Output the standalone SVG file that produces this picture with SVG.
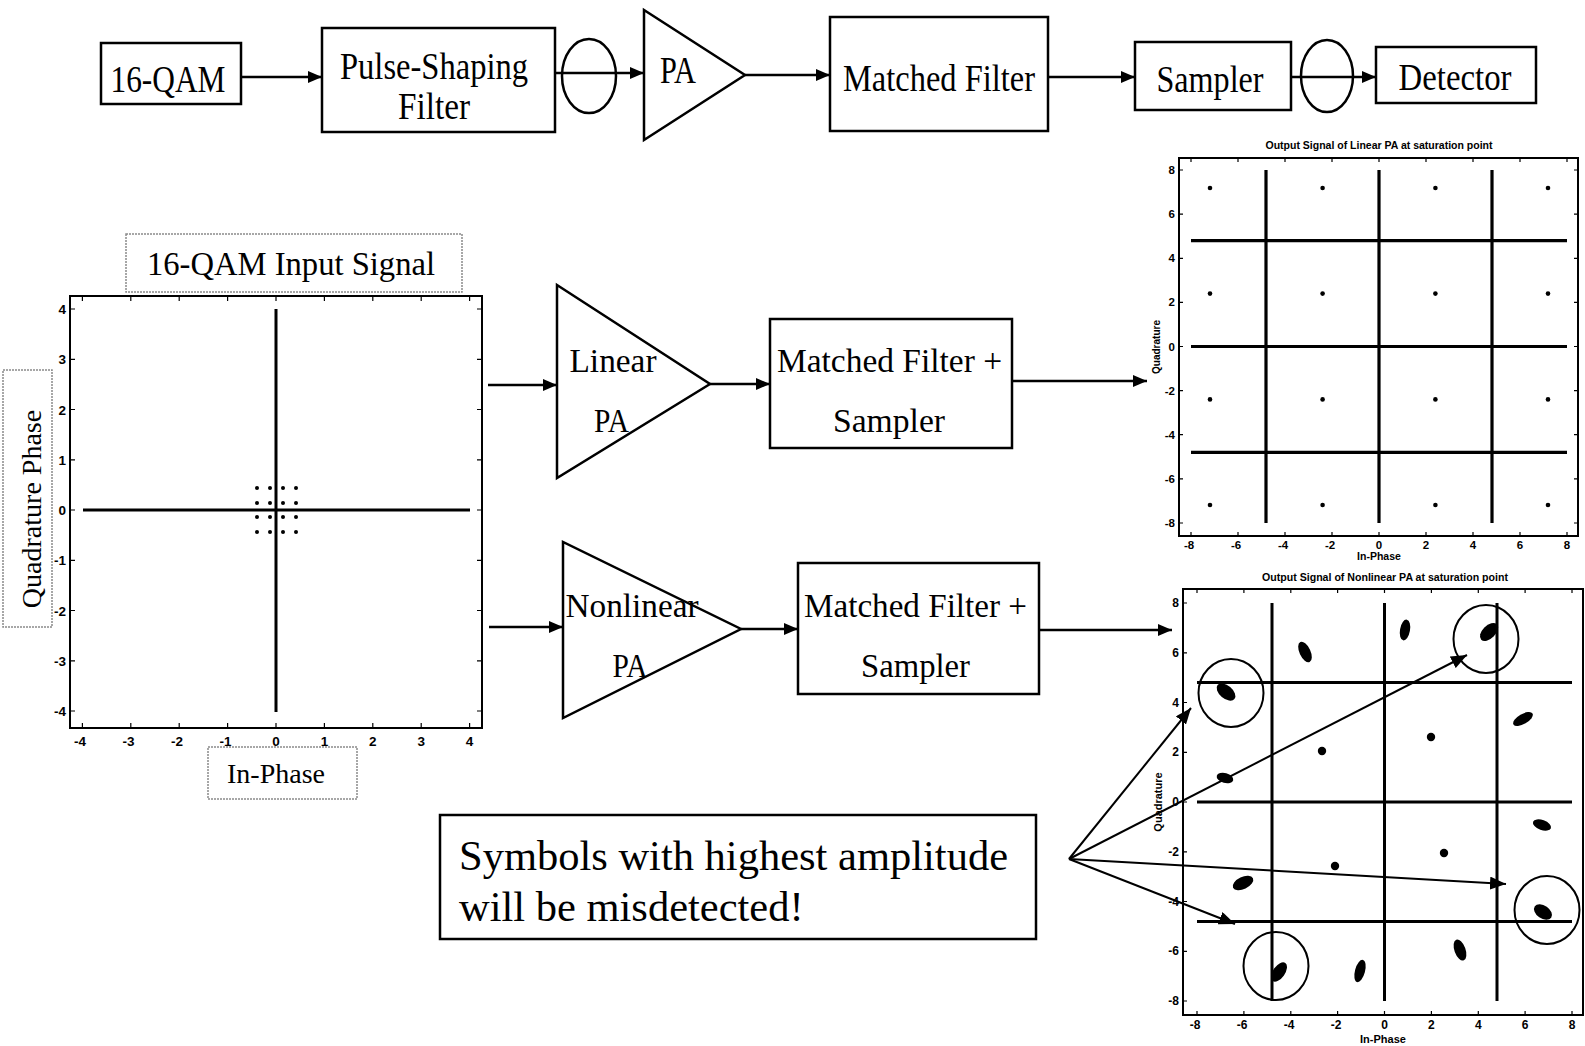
<svg xmlns="http://www.w3.org/2000/svg" width="1585" height="1046" viewBox="0 0 1585 1046">
<style>
.bx{fill:#fff;stroke:#000;stroke-width:2.5}
.lb{fill:none;stroke:#8a8a8a;stroke-width:1.5;stroke-dasharray:2 1}
.ser{font-family:"Liberation Serif","Times New Roman",serif;fill:#000;text-anchor:middle}
.top{font-size:37px}
.mid{font-size:33px}
.big{font-size:42.5px;text-anchor:start}
.tk{font-family:"Liberation Sans",Arial,sans-serif;font-weight:bold;font-size:13.5px;fill:#000}
.tk2{font-family:"Liberation Sans",Arial,sans-serif;font-weight:bold;font-size:11.5px;fill:#000}
.end{text-anchor:end}
.mdl{text-anchor:middle}
.ax{fill:none;stroke:#000;stroke-width:2}
.tick{fill:none;stroke:#000;stroke-width:1.2}
.grid{fill:none;stroke:#000;stroke-width:3.2}
.conn{fill:none;stroke:#000;stroke-width:2.5}
.fan{fill:none;stroke:#000;stroke-width:2}
.circ{fill:none;stroke:#000;stroke-width:2}
</style>
<defs>
<marker id="ah" viewBox="0 0 14 12" refX="14" refY="6" markerWidth="14" markerHeight="12" markerUnits="userSpaceOnUse" orient="auto"><path d="M0,0 L14,6 L0,12 z" fill="#000"/></marker>
<marker id="ah2" viewBox="0 0 16 13" refX="16" refY="6.5" markerWidth="16" markerHeight="13" markerUnits="userSpaceOnUse" orient="auto"><path d="M0,0 L16,6.5 L0,13 z" fill="#000"/></marker>
</defs>
<rect width="1585" height="1046" fill="#fff"/>

<!-- Top chain -->
<g id="qam16">
<rect class="bx" x="101" y="43" width="140" height="61"/>
<text class="ser top" x="168" y="92" textLength="115" lengthAdjust="spacingAndGlyphs">16-QAM</text>
</g>
<g id="pulse-shaping">
<rect class="bx" x="322" y="28" width="233" height="104"/>
<text class="ser top" x="434" y="79" textLength="188" lengthAdjust="spacingAndGlyphs">Pulse-Shaping</text>
<text class="ser top" x="434" y="119" textLength="72" lengthAdjust="spacingAndGlyphs">Filter</text>
</g>
<g id="upsample1"><ellipse class="bx" cx="589" cy="76" rx="27" ry="37" style="fill:none"/></g>
<g id="pa">
<polygon class="bx" points="644,10 644,140 745,75"/>
<text class="ser top" x="678" y="83" textLength="36" lengthAdjust="spacingAndGlyphs">PA</text>
</g>
<g id="matched-filter">
<rect class="bx" x="830" y="17" width="218" height="114"/>
<text class="ser top" x="939" y="91" textLength="192" lengthAdjust="spacingAndGlyphs">Matched Filter</text>
</g>
<g id="sampler">
<rect class="bx" x="1135" y="42" width="156" height="68"/>
<text class="ser top" x="1210" y="92" textLength="107" lengthAdjust="spacingAndGlyphs">Sampler</text>
</g>
<g id="downsample"><ellipse class="bx" cx="1327" cy="76" rx="26" ry="36" style="fill:none"/></g>
<g id="detector">
<rect class="bx" x="1376" y="47" width="160" height="56"/>
<text class="ser top" x="1455" y="90" textLength="113" lengthAdjust="spacingAndGlyphs">Detector</text>
</g>

<!-- Left plot -->
<g id="input-plot">
<rect class="lb" x="126" y="234" width="336" height="58" fill="#fff"/>
<text class="ser" x="291" y="275" style="font-size:33px" textLength="288" lengthAdjust="spacingAndGlyphs">16-QAM Input Signal</text>
<rect class="ax" x="70" y="296" width="412" height="432"/>
<path class="tick" d="M82.4 728V723M130.8 728V723M179.2 728V723M227.6 728V723M276 728V723M324.4 728V723M372.8 728V723M421.2 728V723M469.6 728V723
M82.4 296V301M130.8 296V301M179.2 296V301M227.6 296V301M276 296V301M324.4 296V301M372.8 296V301M421.2 296V301M469.6 296V301
M70 309H75M70 359.3H75M70 409.5H75M70 459.8H75M70 510H75M70 560.3H75M70 610.5H75M70 660.8H75M70 711H75
M482 309H477M482 359.3H477M482 409.5H477M482 459.8H477M482 510H477M482 560.3H477M482 610.5H477M482 660.8H477M482 711H477"/>
<g class="tk end">
<text x="66" y="314">4</text><text x="66" y="364.3">3</text><text x="66" y="414.5">2</text><text x="66" y="464.8">1</text><text x="66" y="515">0</text><text x="66" y="565.3">-1</text><text x="66" y="615.5">-2</text><text x="66" y="665.8">-3</text><text x="66" y="716">-4</text>
</g>
<g class="tk mdl">
<text x="80" y="746">-4</text><text x="128.5" y="746">-3</text><text x="177" y="746">-2</text><text x="225.5" y="746">-1</text><text x="276" y="746">0</text><text x="324.4" y="746">1</text><text x="372.8" y="746">2</text><text x="421.2" y="746">3</text><text x="469.6" y="746">4</text>
</g>
<path d="M83 510H470M276 309V712" stroke="#000" stroke-width="3" fill="none"/>
<g fill="#000">
<circle cx="257" cy="488" r="2"/><circle cx="270" cy="488" r="2"/><circle cx="283" cy="488" r="2"/><circle cx="296" cy="488" r="2"/>
<circle cx="257" cy="503" r="2"/><circle cx="270" cy="503" r="2"/><circle cx="283" cy="503" r="2"/><circle cx="296" cy="503" r="2"/>
<circle cx="257" cy="517" r="2"/><circle cx="270" cy="517" r="2"/><circle cx="283" cy="517" r="2"/><circle cx="296" cy="517" r="2"/>
<circle cx="257" cy="532" r="2"/><circle cx="270" cy="532" r="2"/><circle cx="283" cy="532" r="2"/><circle cx="296" cy="532" r="2"/>
</g>
<rect class="lb" x="3" y="370" width="49" height="257" fill="#fff"/>
<text class="ser" transform="translate(41 509) rotate(-90)" style="font-size:28px">Quadrature Phase</text>
<rect class="lb" x="208" y="747" width="149" height="52" fill="#fff"/>
<text class="ser" x="276" y="783" style="font-size:28px">In-Phase</text>
</g>

<!-- Middle branch -->
<g id="linear-pa">
<polygon class="bx" points="557,285 557,478 710,384"/>
<text class="ser mid" x="613" y="372" textLength="87" lengthAdjust="spacingAndGlyphs">Linear</text>
<text class="ser mid" x="611.5" y="432" textLength="35" lengthAdjust="spacingAndGlyphs">PA</text>
</g>
<g id="mf-sampler-1">
<rect class="bx" x="770" y="319" width="242" height="129"/>
<text class="ser mid" x="889.5" y="372" textLength="225" lengthAdjust="spacingAndGlyphs">Matched Filter +</text>
<text class="ser mid" x="889" y="432" textLength="112" lengthAdjust="spacingAndGlyphs">Sampler</text>
</g>
<g id="nonlinear-pa">
<polygon class="bx" points="563,542 563,718 741,629"/>
<text class="ser mid" x="632" y="617" textLength="133" lengthAdjust="spacingAndGlyphs">Nonlinear</text>
<text class="ser mid" x="630" y="677" textLength="35" lengthAdjust="spacingAndGlyphs">PA</text>
</g>
<g id="mf-sampler-2">
<rect class="bx" x="798" y="563" width="241" height="131"/>
<text class="ser mid" x="915.5" y="617" textLength="223" lengthAdjust="spacingAndGlyphs">Matched Filter +</text>
<text class="ser mid" x="915.5" y="677" textLength="109" lengthAdjust="spacingAndGlyphs">Sampler</text>
</g>

<!-- Top right plot -->
<g id="linear-output-plot">
<text class="tk2 mdl" x="1379" y="149" textLength="227" lengthAdjust="spacingAndGlyphs" style="font-size:10px">Output Signal of Linear PA at saturation point</text>
<rect class="ax" x="1179" y="158" width="399" height="378"/>
<path class="tick" d="M1191 536V532M1238 536V532M1285 536V532M1332 536V532M1379 536V532M1426 536V532M1473 536V532M1520 536V532M1567 536V532
M1191 158V162M1238 158V162M1285 158V162M1332 158V162M1379 158V162M1426 158V162M1473 158V162M1520 158V162M1567 158V162
M1179 170H1183M1179 214.1H1183M1179 258.3H1183M1179 302.4H1183M1179 346.5H1183M1179 390.6H1183M1179 434.7H1183M1179 478.9H1183M1179 523H1183
M1578 170H1574M1578 214.1H1574M1578 258.3H1574M1578 302.4H1574M1578 346.5H1574M1578 390.6H1574M1578 434.7H1574M1578 478.9H1574M1578 523H1574"/>
<g class="tk2 end">
<text x="1175" y="174">8</text><text x="1175" y="218">6</text><text x="1175" y="262">4</text><text x="1175" y="306">2</text><text x="1175" y="350.5">0</text><text x="1175" y="395">-2</text><text x="1175" y="439">-4</text><text x="1175" y="483">-6</text><text x="1175" y="527">-8</text>
</g>
<g class="tk2 mdl">
<text x="1189" y="549">-8</text><text x="1236" y="549">-6</text><text x="1283" y="549">-4</text><text x="1330" y="549">-2</text><text x="1379" y="549">0</text><text x="1426" y="549">2</text><text x="1473" y="549">4</text><text x="1520" y="549">6</text><text x="1567" y="549">8</text>
</g>
<text class="tk2 mdl" x="1379" y="560" style="font-size:10.5px">In-Phase</text>
<text class="tk2 mdl" transform="translate(1160 347) rotate(-90)" style="font-size:10px">Quadrature</text>
<path class="grid" d="M1266 170V523M1379 170V523M1492 170V523M1191 240.6H1567M1191 346.5H1567M1191 452.4H1567"/>
<g fill="#000">
<circle cx="1210" cy="188" r="2.3"/><circle cx="1322.6" cy="188" r="2.3"/><circle cx="1435.4" cy="188" r="2.3"/><circle cx="1548" cy="188" r="2.3"/>
<circle cx="1210" cy="293.6" r="2.3"/><circle cx="1322.6" cy="293.6" r="2.3"/><circle cx="1435.4" cy="293.6" r="2.3"/><circle cx="1548" cy="293.6" r="2.3"/>
<circle cx="1210" cy="399.4" r="2.3"/><circle cx="1322.6" cy="399.4" r="2.3"/><circle cx="1435.4" cy="399.4" r="2.3"/><circle cx="1548" cy="399.4" r="2.3"/>
<circle cx="1210" cy="505" r="2.3"/><circle cx="1322.6" cy="505" r="2.3"/><circle cx="1435.4" cy="505" r="2.3"/><circle cx="1548" cy="505" r="2.3"/>
</g>
</g>

<!-- Bottom right plot -->
<g id="nonlinear-output-plot">
<text class="tk2 mdl" x="1385" y="581" textLength="246" lengthAdjust="spacingAndGlyphs" style="font-size:10px">Output Signal of Nonlinear PA at saturation point</text>
<rect class="ax" x="1183" y="589" width="400" height="426"/>
<path class="tick" d="M1197 1015V1011M1243.9 1015V1011M1290.8 1015V1011M1337.6 1015V1011M1384.5 1015V1011M1431.4 1015V1011M1478.3 1015V1011M1525.1 1015V1011M1572 1015V1011
M1197 589V593M1243.9 589V593M1290.8 589V593M1337.6 589V593M1384.5 589V593M1431.4 589V593M1478.3 589V593M1525.1 589V593M1572 589V593
M1183 603H1187M1183 652.8H1187M1183 702.5H1187M1183 752.3H1187M1183 802H1187M1183 851.8H1187M1183 901.5H1187M1183 951.3H1187M1183 1001H1187"/>
<g class="tk2 end" style="font-size:12px">
<text x="1179" y="607">8</text><text x="1179" y="657">6</text><text x="1179" y="706.5">4</text><text x="1179" y="756">2</text><text x="1179" y="806">0</text><text x="1179" y="856">-2</text><text x="1179" y="905.5">-4</text><text x="1179" y="955">-6</text><text x="1179" y="1005">-8</text>
</g>
<g class="tk2 mdl" style="font-size:12px">
<text x="1195" y="1029">-8</text><text x="1242" y="1029">-6</text><text x="1289" y="1029">-4</text><text x="1336" y="1029">-2</text><text x="1384.5" y="1029">0</text><text x="1431.4" y="1029">2</text><text x="1478.3" y="1029">4</text><text x="1525.1" y="1029">6</text><text x="1572" y="1029">8</text>
</g>
<text class="tk2 mdl" x="1383" y="1043" style="font-size:11px">In-Phase</text>
<text class="tk2 mdl" transform="translate(1162 802) rotate(-90)" style="font-size:11px">Quadrature</text>
<path class="grid" d="M1272 603V1001M1384.5 603V1001M1497 603V1001M1197 682.6H1572M1197 802H1572M1197 921.4H1572" style="stroke-width:3"/>
<g fill="#000">
<ellipse cx="1489" cy="632" rx="11" ry="6.5" transform="rotate(-45 1489 632)"/>
<ellipse cx="1405" cy="630" rx="5" ry="10.5" transform="rotate(10 1405 630)"/>
<ellipse cx="1305" cy="652" rx="5.5" ry="11" transform="rotate(-25 1305 652)"/>
<ellipse cx="1226" cy="692" rx="11" ry="6.5" transform="rotate(40 1226 692)"/>
<ellipse cx="1523" cy="719" rx="11" ry="5" transform="rotate(-30 1523 719)"/>
<circle cx="1431" cy="737" r="4.2"/>
<circle cx="1322" cy="751" r="4.2"/>
<ellipse cx="1225" cy="778" rx="8.5" ry="5" transform="rotate(15 1225 778)"/>
<ellipse cx="1542" cy="825" rx="9.5" ry="5" transform="rotate(20 1542 825)"/>
<circle cx="1444" cy="853" r="4.2"/>
<circle cx="1335" cy="866" r="4.2"/>
<ellipse cx="1243" cy="883" rx="11" ry="6" transform="rotate(-25 1243 883)"/>
<ellipse cx="1543" cy="912" rx="10" ry="6.5" transform="rotate(35 1543 912)"/>
<ellipse cx="1460" cy="950" rx="5.5" ry="11" transform="rotate(-20 1460 950)"/>
<ellipse cx="1360" cy="971" rx="5" ry="11.5" transform="rotate(15 1360 971)"/>
<ellipse cx="1279" cy="972" rx="11" ry="6" transform="rotate(-55 1279 972)"/>
</g>
<ellipse class="circ" cx="1231" cy="693" rx="32.5" ry="34"/>
<ellipse class="circ" cx="1486" cy="639" rx="32.5" ry="34"/>
<ellipse class="circ" cx="1547" cy="910" rx="32.5" ry="34"/>
<ellipse class="circ" cx="1276" cy="966" rx="32.5" ry="34"/>
</g>

<!-- Annotation -->
<g id="annotation">
<rect class="bx" x="440" y="815" width="596" height="124"/>
<text class="ser big" x="459" y="870" textLength="549" lengthAdjust="spacingAndGlyphs">Symbols with highest amplitude</text>
<text class="ser big" x="459" y="921">will be misdetected!</text>
</g>

<!-- Connectors -->
<g id="connectors">
<line class="conn" x1="241" y1="77" x2="322" y2="77" marker-end="url(#ah)"/>
<line class="conn" x1="555" y1="73" x2="644" y2="73" marker-end="url(#ah)"/>
<line class="conn" x1="745" y1="75" x2="830" y2="75" marker-end="url(#ah)"/>
<line class="conn" x1="1048" y1="77" x2="1135" y2="77" marker-end="url(#ah)"/>
<line class="conn" x1="1291" y1="77" x2="1376" y2="77" marker-end="url(#ah)"/>
<line class="conn" x1="488" y1="385" x2="557" y2="385" marker-end="url(#ah)"/>
<line class="conn" x1="710" y1="384" x2="770" y2="384" marker-end="url(#ah)"/>
<line class="conn" x1="1012" y1="381" x2="1147" y2="381" marker-end="url(#ah)"/>
<line class="conn" x1="489" y1="627" x2="563" y2="627" marker-end="url(#ah)"/>
<line class="conn" x1="741" y1="629" x2="798" y2="629" marker-end="url(#ah)"/>
<line class="conn" x1="1039" y1="630" x2="1172" y2="630" marker-end="url(#ah)"/>
<line class="fan" x1="1069" y1="859" x2="1191" y2="708" marker-end="url(#ah2)"/>
<line class="fan" x1="1069" y1="859" x2="1467" y2="655" marker-end="url(#ah2)"/>
<line class="fan" x1="1069" y1="859" x2="1506" y2="884" marker-end="url(#ah2)"/>
<line class="fan" x1="1069" y1="859" x2="1235" y2="924" marker-end="url(#ah2)"/>
</g>
</svg>
